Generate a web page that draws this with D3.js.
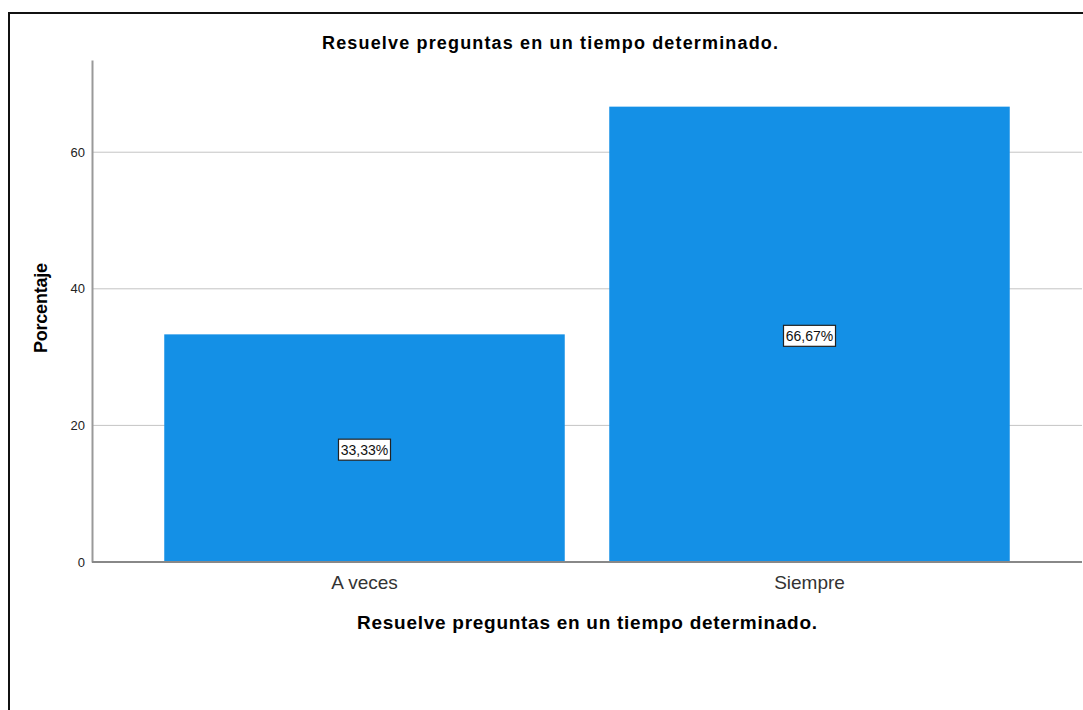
<!DOCTYPE html>
<html>
<head>
<meta charset="utf-8">
<script src="https://cdn.jsdelivr.net/npm/d3@7"></script>
<style>
  body { margin: 0; background: #fff; }
  svg { display: block; font-family: "Liberation Sans", Arial, sans-serif; }
</style>
</head>
<body>
<div id="chart"></div>
<script>
// data
var categories = ["A veces", "Siempre"];
var percentages = [33.33, 66.67];
var yTicks = [0, 20, 40, 60];
var chartTitle = "Resuelve preguntas en un tiempo determinado.";
var xTitle = "Resuelve preguntas en un tiempo determinado.";
var yTitle = "Porcentaje";

var W = 1083, H = 710;
var svg = d3.select("#chart").append("svg")
  .attr("width", W)
  .attr("height", H);

// outer frame
svg.append("path")
  .attr("d", "M9,710 L9,13 L1083,13")
  .attr("fill", "none")
  .attr("stroke", "#111")
  .attr("stroke-width", 2);

var plotLeft = 92, plotRight = 1082, plotTop = 60, plotBottom = 562;

var x = d3.scaleBand()
  .domain(categories)
  .range([142, 1032])
  .paddingInner(0.1)
  .paddingOuter(0.05);

var y = d3.scaleLinear()
  .domain([0, 73.5])
  .range([plotBottom, plotTop]);

// gridlines
svg.append("g").selectAll("line")
  .data(yTicks.filter(function(d){ return d > 0; }))
  .enter().append("line")
    .attr("x1", plotLeft)
    .attr("x2", plotRight)
    .attr("y1", function(d){ return y(d); })
    .attr("y2", function(d){ return y(d); })
    .attr("stroke", "#c4c4c4")
    .attr("stroke-width", 1);

// bars
svg.append("g").selectAll("rect")
  .data(percentages)
  .enter().append("rect")
    .attr("x", function(d, i){ return x(categories[i]); })
    .attr("y", function(d){ return y(d); })
    .attr("width", x.bandwidth())
    .attr("height", function(d){ return plotBottom - y(d); })
    .attr("fill", "#1490e6");

// y axis
var yAxis = svg.append("g")
  .attr("transform", "translate(" + plotLeft + ",0)")
  .call(d3.axisLeft(y).tickValues(yTicks).tickSize(0).tickPadding(7));
yAxis.attr("font-size", null).attr("font-family", null);
yAxis.select(".domain").attr("stroke", "#999").attr("stroke-width", 2);
yAxis.selectAll("text").style("font-size", "13px").attr("fill", "#222");

// x axis
var xAxis = svg.append("g")
  .attr("transform", "translate(0," + plotBottom + ")")
  .call(d3.axisBottom(x).tickSize(0).tickPadding(14));
xAxis.attr("font-size", null).attr("font-family", null);
xAxis.select(".domain").remove();
xAxis.selectAll("text").style("font-size", "19px").attr("fill", "#333");
svg.append("line")
  .attr("x1", plotLeft).attr("x2", plotRight)
  .attr("y1", plotBottom).attr("y2", plotBottom)
  .attr("stroke", "#888").attr("stroke-width", 2);

// value labels
var labels = svg.append("g").selectAll("g")
  .data(percentages)
  .enter().append("g")
    .attr("transform", function(d, i){
      return "translate(" + (x(categories[i]) + x.bandwidth() / 2) + "," + (y(d / 2) + 1.5) + ")";
    });
labels.append("rect")
  .attr("x", -26).attr("y", -10.5)
  .attr("width", 52).attr("height", 21)
  .attr("fill", "#fff")
  .attr("stroke", "#222")
  .attr("stroke-width", 1.2);
labels.append("text")
  .attr("text-anchor", "middle")
  .attr("dy", "0.36em")
  .attr("font-size", 14)
  .attr("fill", "#111")
  .text(function(d){ return d.toFixed(2).replace(".", ",") + "%"; });

// titles
svg.append("text")
  .attr("x", 550).attr("y", 49)
  .attr("text-anchor", "middle")
  .attr("font-size", 18).attr("font-weight", "bold")
  .attr("textLength", 456).attr("lengthAdjust", "spacing")
  .text(chartTitle);

svg.append("text")
  .attr("x", (plotLeft + plotRight) / 2).attr("y", 629)
  .attr("text-anchor", "middle")
  .attr("font-size", 19).attr("font-weight", "bold")
  .attr("textLength", 460).attr("lengthAdjust", "spacing")
  .text(xTitle);

svg.append("text")
  .attr("transform", "translate(47," + 308 + ") rotate(-90)")
  .attr("text-anchor", "middle")
  .attr("font-size", 18).attr("font-weight", "bold")
  .attr("textLength", 90).attr("lengthAdjust", "spacing")
  .text(yTitle);
</script>
</body>
</html>
